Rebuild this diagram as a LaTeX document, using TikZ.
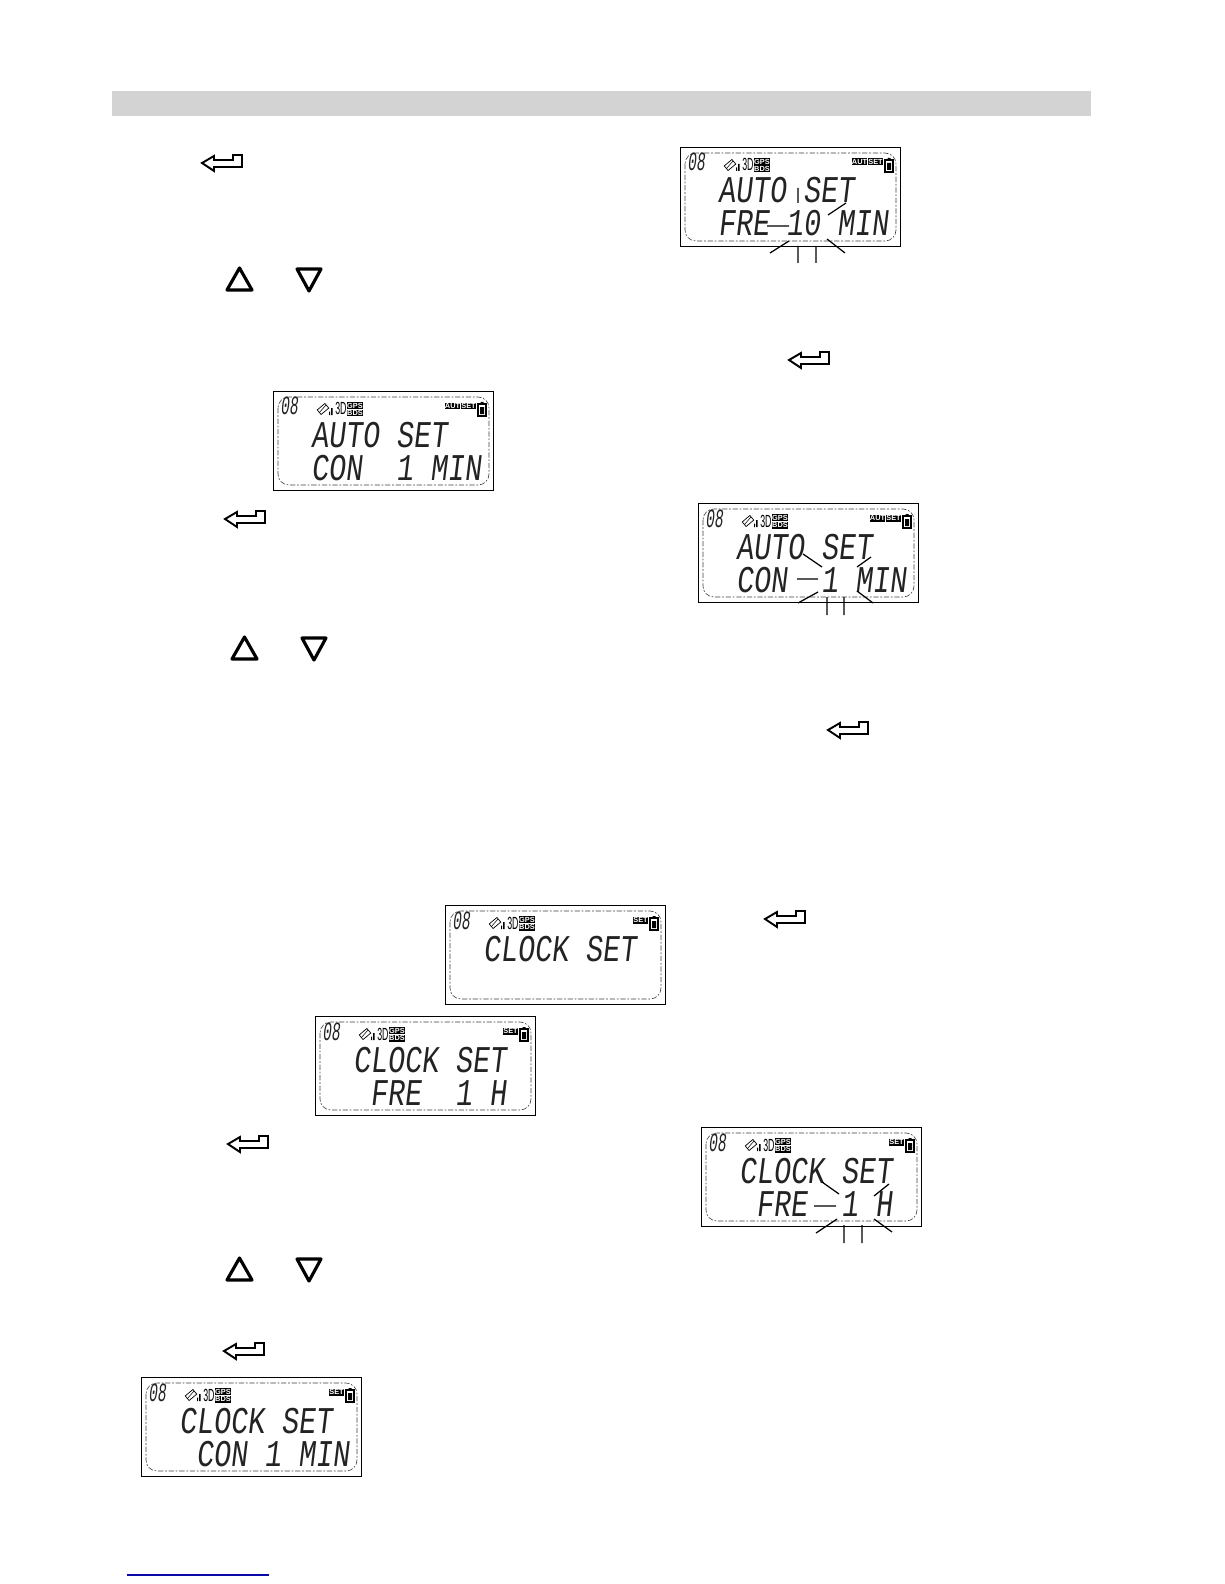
\documentclass[tikz,border=0pt]{standalone}
\usepackage{fontspec}
\usepackage{xcolor}
\newfontfamily\lcdfont[FakeStretch=0.75,FakeSlant=0.12]{Liberation Mono}
\newfontfamily\numfont[FakeStretch=0.55,FakeSlant=0.12]{Liberation Mono}
\newfontfamily\narrowfont[FakeStretch=0.5]{Liberation Sans}
\newfontfamily\tagfont[BoldFont={Liberation Sans Bold}]{Liberation Sans}
\definecolor{barGray}{RGB}{211,211,211}
\definecolor{linkBlue}{RGB}{10,10,170}
\definecolor{lcdInk}{RGB}{35,35,35}
\tikzset{
	lcdframe/.style={draw=black, line width=0.65pt, fill=white},
	lcdinner/.style={draw=black!75, line width=0.35pt, rounded corners=2.2mm, dash pattern=on 3pt off 1pt on 1pt off 1pt},
	lcdtext/.style={anchor=base west, inner sep=0pt, text=lcdInk, font=\lcdfont\fontsize{21.5}{22}\selectfont},
	lcdnum/.style={anchor=base west, inner sep=0pt, text=lcdInk, font=\numfont\fontsize{15}{15}\selectfont},
	tagbox/.style={fill=black, text=white, inner sep=0pt, font=\tagfont\bfseries\fontsize{4.2}{4.2}\selectfont, minimum height=0.14cm},
	leader/.style={line width=0.7pt},
	keyshape/.style={line width=1.1pt, line join=miter},
	trishape/.style={line width=1.8pt, line join=round}
}
% name, left, top, first line, second line, tags
\newcommand{\lcdpanel}[6]{
	\begin{scope}[shift={(#2,#3)}]
		\draw[lcdframe] (0.5,0.5) rectangle (220.5,99.5);
		\draw[lcdinner] (5,6) rectangle (216,94);
		\node[lcdnum] (#1-num) at (7,24) {08};
		\draw[line width=0.4pt, rotate around={40:(50,18)}] (45,15) rectangle (55,21);
		\draw[line width=0.3pt] (46,22) -- (53,14);
		\fill (56,20.5) rectangle (57,24) (58,17) rectangle (59.5,24);
		\node[anchor=base west, inner sep=0pt, font=\narrowfont\fontsize{10}{10}\selectfont] (#1-3d) at (62,24) {3D};
		\node[tagbox, minimum width=0.3cm] (#1-gps) at (82,14.5) {GPS};
		\node[tagbox, minimum width=0.3cm] (#1-bds) at (82,22) {BDS};
		\foreach \tagname/\tagx in {#6}
		\node[tagbox, minimum width=0.3cm] at (\tagx,15) {\tagname};
		\draw[line width=0.7pt] (205,13) rectangle (213,25);
		\fill (207,16) rectangle (211,23) (207.5,11) rectangle (210.5,13);
		\node[lcdtext] (#1-top) at (38,56) {#4};
		\node[lcdtext] (#1-bot) at (38,89) {#5};
	\end{scope}
}
\begin{document}
\begin{tikzpicture}[x=0.02cm, y=-0.02cm]
	\useasboundingbox (0,0) rectangle (1224,1584);
	\fill[barGray] (112,91) rectangle (1091,116);
	\draw[linkBlue, line width=0.7pt] (127,1575) -- (269,1575);
	% displays
	\lcdpanel{autoFre}{680}{147}{AUTO~SET}{FRE~10~MIN}{AUT/179.5,SET/195.5}
	\lcdpanel{autoCon}{273}{391}{AUTO~SET}{CON~~1~MIN}{AUT/179.5,SET/195.5}
	\lcdpanel{autoConB}{698}{503}{AUTO~SET}{CON~~1~MIN}{AUT/179.5,SET/195.5}
	\lcdpanel{clockTop}{445}{905}{CLOCK~SET}{}{SET/195.5}
	\lcdpanel{clockFre}{315}{1016}{CLOCK~SET}{~FRE~~1~H}{SET/195.5}
	\lcdpanel{clockFreB}{701}{1127}{CLOCK~SET}{~FRE~~1~H}{SET/195.5}
	\lcdpanel{clockCon}{141}{1377}{CLOCK~SET}{~CON~1~MIN}{SET/195.5}
	% enter keys
	\foreach \x/\y in {202/155, 789/352, 225/511, 828/722, 765/911, 228/1136, 224/1343}
	\draw[keyshape, shift={(\x,\y)}] (0,8) -- (12,1) -- (12,5) -- (31,5) -- (31,0) -- (40,0) -- (40,12) -- (12,12) -- (12,16) -- cycle;
	% up and down keys
	\foreach \x/\y in {227/268, 232/637, 227/1258}
	\draw[trishape, shift={(\x,\y)}] (12.5,0) -- (25,22) -- (0,22) -- cycle;
	\foreach \x/\y in {297/269, 302/638, 297/1259}
	\draw[trishape, shift={(\x,\y)}] (0,0) -- (24,0) -- (12,22) -- cycle;
	% callout lines
	\draw[leader] (770,253) -- (789,241) (798,246) -- (798,263) (816,246) -- (816,263) (827,239) -- (845,253);
	\draw[leader] (798,188) -- (798,203) (828,215) -- (846,203) (767,226) -- (789,226);
	\draw[leader] (798,603) -- (818,592) (827,597) -- (827,615) (844,597) -- (844,615) (857,591) -- (873,603);
	\draw[leader] (803,554) -- (822,567) (797,579) -- (818,579) (857,567) -- (871,557);
	\draw[leader] (816,1233) -- (837,1219) (844,1225) -- (844,1243) (862,1225) -- (862,1243) (874,1219) -- (892,1232);
	\draw[leader] (822,1182) -- (839,1194) (814,1206) -- (836,1206) (874,1196) -- (889,1184);
\end{tikzpicture}
\end{document}
